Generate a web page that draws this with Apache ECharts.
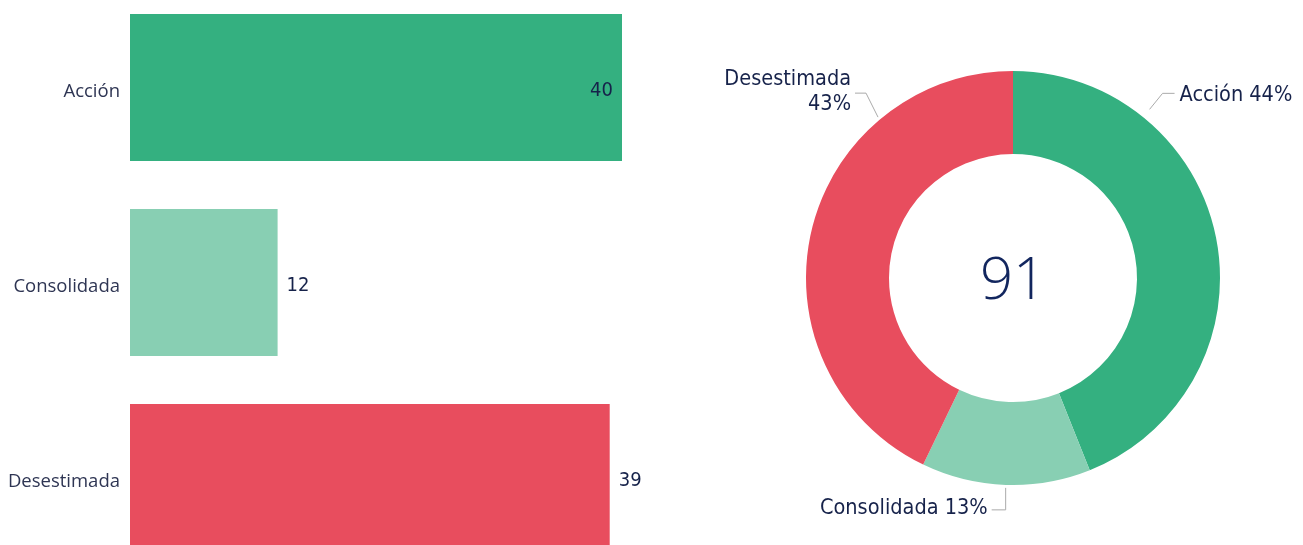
<!DOCTYPE html>
<html><head><meta charset="utf-8">
<script src="https://cdn.jsdelivr.net/npm/echarts@6/dist/echarts.min.js"></script>
<style>html,body{margin:0;padding:0;background:#fff;overflow:hidden;width:1303px;height:545px}#c{position:absolute;left:0;top:-10px;width:1303px;height:600px}</style>
</head><body><div id="c"></div>
<script>
const categories = ['Acción', 'Consolidada', 'Desestimada'];
const values = [40, 12, 39];
const percentLabels = ['44%', '13%', '43%'];
const colors = ['#34B080', '#88CFB3', '#E84D5E'];
const total = values.reduce((a, b) => a + b, 0);

const navy = '#16224A';
const dinFont = '"DejaVu Sans Condensed", "DejaVu Sans", sans-serif';
const pieCenter = [1013, 288];
const pieR = [124, 207];

const chart = echarts.init(document.getElementById('c'));

function arcPt(deg, r) {
  const a = deg * Math.PI / 180;
  return [pieCenter[0] + r * Math.sin(a), pieCenter[1] - r * Math.cos(a)];
}

chart.setOption({
  animation: false,
  grid: { left: 130, right: 558, top: 0, height: 585 },
  xAxis: { type: 'value', min: 0, max: 50, show: false },
  yAxis: {
    type: 'category', data: categories, inverse: true,
    axisLine: { show: false }, axisTick: { show: false },
    axisLabel: { margin: 10, formatter: v => '{c|' + v + '}',
      rich: { c: { fontSize: 18.5, color: '#2E3553', fontFamily: '"Open Sans", sans-serif', padding: [8, 0, 0, 0] } } }
  },
  series: [
    {
      type: 'bar', barCategoryGap: '24.6%',
      data: values.map((v, i) => ({
        value: v,
        itemStyle: { color: colors[i] },
        label: i === 0 ? { position: 'insideRight', distance: 9 } : { position: 'right', distance: 9 }
      })),
      label: { show: true, fontSize: 20, color: navy, fontFamily: dinFont, offset: [0, 3] }
    },
    {
      type: 'pie', center: pieCenter, radius: pieR, startAngle: 90, clockwise: true,
      avoidLabelOverlap: false,
      data: categories.map((c, i) => ({ name: c, value: values[i], itemStyle: { color: colors[i] } })),
      label: {
        show: true, position: 'outside', fontSize: 21.5, color: navy, fontFamily: dinFont, lineHeight: 25,
        formatter: p => p.dataIndex === 2 ? p.name + '\n' + percentLabels[2] : p.name + ' ' + percentLabels[p.dataIndex]
      },
      labelLine: { show: true, lineStyle: { color: '#AAAAAA', width: 1 } },
      labelLayout: function (p) {
        const i = p.dataIndex;
        if (i === 0) {
          const s = arcPt(39, 217);
          return { x: s[0] + 30, y: s[1] - 14, align: 'left', verticalAlign: 'middle',
            labelLinePoints: [s, [s[0] + 13, s[1] - 16], [s[0] + 25, s[1] - 16]] };
        } else if (i === 1) {
          const s = arcPt(182, 210);
          return { x: s[0] - 18, y: s[1] + 21, align: 'right', verticalAlign: 'middle',
            labelLinePoints: [s, [s[0], s[1] + 22], [s[0] - 14, s[1] + 22]] };
        } else {
          const s = arcPt(-40, 210);
          return { x: s[0] - 27, y: s[1] - 25, align: 'right', verticalAlign: 'middle',
            labelLinePoints: [s, [s[0] - 12, s[1] - 24], [s[0] - 23, s[1] - 24]] };
        }
      }
    }
  ],
  graphic: [{
    type: 'text', x: pieCenter[0], y: pieCenter[1] + 4,
    style: { text: String(total), fontSize: 58, fontFamily: '"Open Sans", sans-serif', fontWeight: 300,
      fill: '#12265E', align: 'center', verticalAlign: 'middle' }
  }]
});
</script></body></html>
